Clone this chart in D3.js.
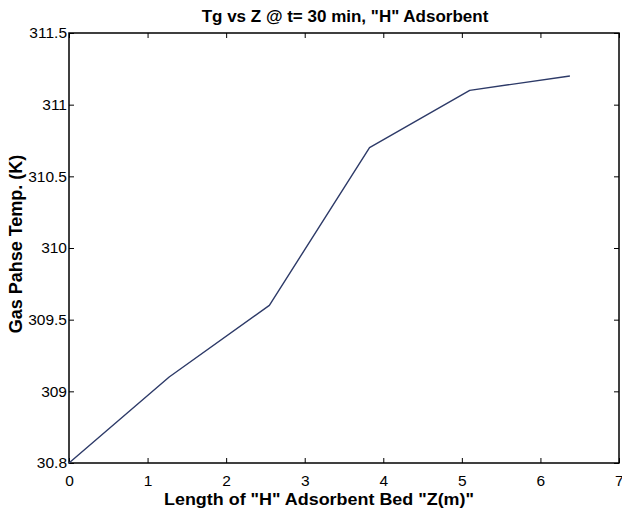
<!DOCTYPE html>
<html>
<head>
<meta charset="utf-8">
<script src="https://cdn.jsdelivr.net/npm/d3@7"></script>
<style>
  html, body { margin: 0; padding: 0; background: #fff; }
  svg { display: block; font-family: "Liberation Sans", Arial, sans-serif; }
</style>
</head>
<body>
<svg id="chart" width="622" height="517"></svg>
<script>
// Bed position (m) and gas phase temperature (K)
const zValues = [0, 1.275, 2.55, 3.825, 5.1, 6.375];
const tgValues = [308.5, 309.1, 309.6, 310.7, 311.1, 311.2];

const xTicks = [0, 1, 2, 3, 4, 5, 6, 7];
const yTicks = [308.5, 309, 309.5, 310, 310.5, 311, 311.5];
const yTickLabels = ["30.8", "309", "309.5", "310", "310.5", "311", "311.5"];

const titleText = 'Tg vs Z @ t= 30 min, "H" Adsorbent';
const xLabelText = 'Length of "H" Adsorbent Bed "Z(m)"';
const yLabelText = 'Gas Pahse Temp. (K)';

const svg = d3.select("#chart");
const margin = { left: 69, right: 3, top: 33, bottom: 54 };
const W = 622, H = 517;

const x = d3.scaleLinear().domain([0, 7]).range([margin.left, W - margin.right]);
const y = d3.scaleLinear().domain([308.5, 311.5]).range([H - margin.bottom, margin.top]);

const tickLen = 5;
const tickFont = "15.5px";

// bottom axis
const xAxis = svg.append("g")
  .attr("transform", `translate(0,${y.range()[0]})`)
  .call(d3.axisBottom(x).tickValues(xTicks).tickFormat(d3.format("d")).tickSizeInner(-tickLen).tickSizeOuter(0).tickPadding(12));
// left axis
const yAxis = svg.append("g")
  .attr("transform", `translate(${x.range()[0]},0)`)
  .call(d3.axisLeft(y).tickValues(yTicks).tickFormat((d, i) => yTickLabels[i]).tickSizeInner(-tickLen).tickSizeOuter(0).tickPadding(2));
// top and right ticks, no labels
const xTop = svg.append("g")
  .attr("transform", `translate(0,${y.range()[1]})`)
  .call(d3.axisTop(x).tickValues(xTicks).tickFormat("").tickSizeInner(-tickLen).tickSizeOuter(0));
const yRight = svg.append("g")
  .attr("transform", `translate(${x.range()[1]},0)`)
  .call(d3.axisRight(y).tickValues(yTicks).tickFormat("").tickSizeInner(-tickLen).tickSizeOuter(0));

[xAxis, yAxis, xTop, yRight].forEach(g => {
  g.select(".domain").remove();
  g.selectAll("line").attr("stroke", "#000").attr("stroke-width", 1);
  g.selectAll("text").attr("fill", "#000").style("font-size", tickFont)
    .style("font-family", '"Liberation Sans", Arial, sans-serif');
});
xAxis.selectAll("text").attr("dy", "0.71em");
// keep the last x label inside the figure edge
xAxis.selectAll("text").filter(d => d === 7).attr("text-anchor", "end").attr("dx", "4");
yAxis.selectAll("text").attr("dy", "0.32em");

// axes box
svg.append("rect")
  .attr("x", x.range()[0]).attr("y", y.range()[1])
  .attr("width", x.range()[1] - x.range()[0])
  .attr("height", y.range()[0] - y.range()[1])
  .attr("fill", "none").attr("stroke", "#000").attr("stroke-width", 1.5);

// data line
const pts = zValues.map((z, i) => [z, tgValues[i]]);
svg.append("path")
  .datum(pts)
  .attr("fill", "none")
  .attr("stroke", "#2d3a68")
  .attr("stroke-width", 1.4)
  .attr("stroke-linejoin", "round")
  .attr("d", d3.line().x(d => x(d[0])).y(d => y(d[1])));

// title and labels
svg.append("text")
  .attr("x", 345).attr("y", 22)
  .attr("text-anchor", "middle")
  .style("font-size", "17px").style("font-weight", "bold")
  .text(titleText);

svg.append("text")
  .attr("x", 164).attr("y", 505)
  .attr("textLength", 310).attr("lengthAdjust", "spacingAndGlyphs")
  .style("font-size", "17px").style("font-weight", "bold")
  .text(xLabelText);

svg.append("text")
  .attr("transform", `translate(22,244) rotate(-90)`)
  .attr("text-anchor", "middle")
  .style("font-size", "18px").style("font-weight", "bold")
  .text(yLabelText);
</script>
</body>
</html>
